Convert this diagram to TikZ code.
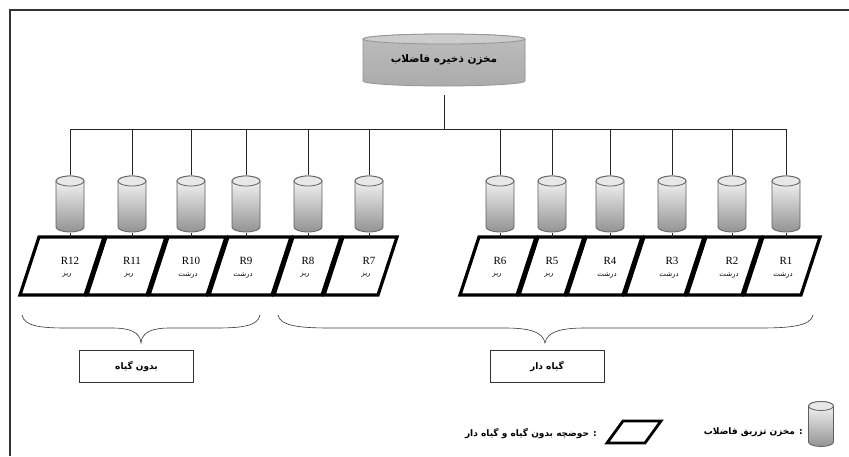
\documentclass[tikz,border=0pt]{standalone}
\usepackage{fontspec}
\setmainfont{Liberation Serif}
\newfontfamily\fa[Script=Arabic]{DejaVu Sans}
\TeXXeTstate=1
\definecolor{cylline}{HTML}{5E5E5E}
\newcommand\cylshape[7]{%
  \begin{scope}[shift={(path picture bounding box.center)},x=1pt,y=1pt]
    \shade[top color=#4,bottom color=#5,draw=#7,line width=0.8pt]
      (-#1,#2) -- (-#1,-#2) arc[start angle=180,end angle=360,x radius=#1,y radius=#3]
      -- (#1,#2) arc[start angle=0,end angle=180,x radius=#1,y radius=#3] -- cycle;
    \draw[fill=#6,draw=#7,line width=0.8pt] (0,#2) ellipse[x radius=#1,y radius=#3];
  \end{scope}}
\newcommand\cylshadow[3]{%
  \begin{scope}[shift={(path picture bounding box.center)},x=1pt,y=1pt]
    \fill[gray!75,shift={(1pt,-3pt)}]
      (-#1,#2) -- (-#1,-#2) arc[start angle=180,end angle=360,x radius=#1,y radius=#3]
      -- (#1,#2) -- cycle;
  \end{scope}}
\begin{document}
\begin{tikzpicture}[x=1pt,y=-1pt,
  smallcyl/.style={minimum width=32pt,minimum height=58pt,inner sep=0pt,
    path picture={\cylshape{14}{23}{5}{gray!4}{gray!85}{gray!18}{cylline}}},
  legcyl/.style={minimum width=28pt,minimum height=48pt,inner sep=0pt,
    path picture={\cylshape{12.5}{18}{4.5}{gray!4}{gray!85}{gray!18}{cylline}}},
  tank/.style={minimum width=168pt,minimum height=62pt,inner sep=0pt,
    path picture={\cylshadow{81}{20}{5}\cylshape{81}{21}{5}{gray!52}{gray!66}{gray!40}{gray!85}}},
  tanktext/.style={font=\fa\bfseries\fontsize{10.5}{12}\selectfont,inner sep=0pt},
  pond/.style={draw=black,line width=3.2pt,line join=miter},
  conn/.style={draw=black!85,line width=0.7pt},
  rlabel/.style={font=\fontsize{11}{12}\selectfont,inner sep=0pt},
  rword/.style={font=\fa\fontsize{7}{8}\selectfont,inner sep=0pt},
  brace/.style={draw=black!80,line width=0.6pt},
  labelbox/.style={draw=black!80,line width=0.7pt,minimum width=114pt,minimum height=32pt,
    inner sep=0pt,font=\fa\bfseries\fontsize{9}{11}\selectfont},
  legtext/.style={font=\fa\bfseries\fontsize{9}{11}\selectfont,inner sep=0pt},
  frame/.style={draw=black!80,line width=2pt}]
\useasboundingbox (0,0) rectangle (849,456);
\draw[frame] (10,456) -- (10,10) -- (849,10);

% storage tank
\node[tank] (store) at (444,60) {};
\node[tanktext] (storetext) at (store.center) {\beginR مخزن ذخیره فاضلاب\endR};
\coordinate (bj) at (444,129);

% ponds, injection tanks
\foreach \n/\L/\R/\cx/\w in {12/38/105/70/ریز, 11/105/167/132/ریز, 10/167/227/191/درشت,
  9/227/292/246/درشت, 8/292/342/308/ریز, 7/342/398/369/ریز, 6/478/537/500/ریز,
  5/537/585/552/ریز, 4/585/643/610/درشت, 3/643/705/672/درشت, 2/705/762/732/درشت,
  1/762/821/786/درشت}{
  \draw[pond] ({\L+1},237) -- ({\R-1},237) -- ({\R-20},295) -- ({\L-18},295) -- cycle;
  \node[smallcyl] (c\n) at (\cx,204) {};
  \coordinate (b\n) at (\cx,129);
  \coordinate (p\n) at (\cx,237);
  \node[rlabel] (r\n) at (\cx,261) {R\n};
  \node[rword] (w\n) at ({\cx-3},275) {\beginR\w\endR};
  \draw[conn] (b\n) -- (c\n.north);
  \draw[conn] (c\n.south) -- (p\n);
}
\draw[conn] (b12) -- (b1);
\draw[conn] ([yshift=-4pt]store.south) -- (bj);

% braces
\draw[brace] (22,315) .. controls (24,326) and (40,328) .. (66,328) -- (112,328)
  .. controls (130,328) and (140,332) .. (141,343)
  .. controls (142,332) and (152,328) .. (170,328) -- (216,328)
  .. controls (242,328) and (258,326) .. (260,315);
\draw[brace] (278,315) .. controls (280,326) and (300,328) .. (330,328) -- (505,328)
  .. controls (530,328) and (543,332) .. (545,343)
  .. controls (547,332) and (560,328) .. (585,328) -- (760,328)
  .. controls (790,328) and (811,326) .. (813,315);

% group labels
\node[labelbox] (nogreen) at (136.5,366) {\beginR بدون گیاه\endR};
\node[labelbox] (green) at (547,366) {\beginR گیاه دار\endR};

% legend
\node[legcyl] (legc) at (821,424) {};
\node[legtext,anchor=east] (legt1) at (803,432) {\beginR : مخزن تزریق فاضلاب\endR};
\draw[pond,line width=2.8pt] (623,421) -- (661,421) -- (645,443) -- (607,443) -- cycle;
\node[legtext,anchor=east] (legt2) at (597,433) {\beginR : حوضچه بدون گیاه و گیاه دار\endR};
\end{tikzpicture}
\end{document}
